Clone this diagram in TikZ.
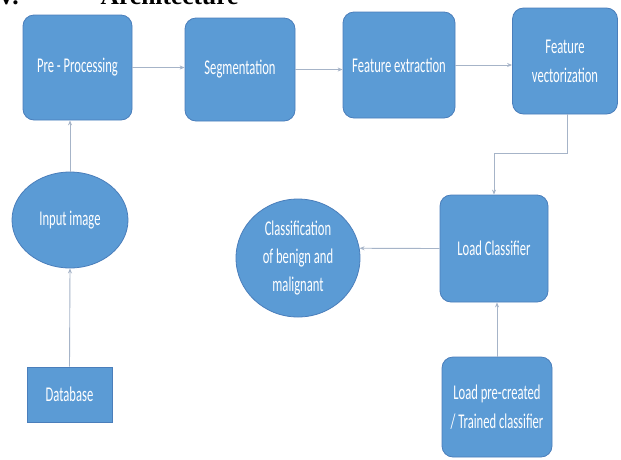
\documentclass[tikz,border=0pt]{standalone}
\usepackage{fontspec}
\setmainfont{Carlito}
\newfontfamily\boxfont[FakeStretch=0.6]{Carlito}
\newfontfamily\headfont{Liberation Serif}
\usetikzlibrary{arrows.meta,shapes.geometric}
\definecolor{boxblue}{HTML}{5B9BD5}
\definecolor{boxedge}{HTML}{4A7EBB}
\definecolor{linegray}{HTML}{A6B4C8}
\tikzset{
  rbox/.style={draw=boxedge, line width=0.8pt, fill=boxblue, rounded corners=11pt,
    text=white, font=\boxfont\fontsize{21}{24}\selectfont, align=center, inner sep=2pt},
  sbox/.style={draw=boxedge, line width=0.8pt, fill=boxblue,
    text=white, font=\boxfont\fontsize{21}{24}\selectfont, align=center, inner sep=2pt},
  ebox/.style={ellipse, draw=boxedge, line width=0.8pt, fill=boxblue,
    text=white, font=\boxfont\fontsize{21}{24}\selectfont, align=center, inner sep=0pt},
  conn/.style={draw=linegray, line width=0.9pt, -{Stealth[length=5pt,width=4pt]}}
}
\begin{document}
\begin{tikzpicture}[x=1pt,y=-1pt]
\useasboundingbox (0,0) rectangle (621,459);
\clip (0,0) rectangle (621,459);
\fill[white] (0,0) rectangle (621,459);
% clipped heading
\node[anchor=base west, inner sep=0pt, font=\headfont\bfseries\fontsize{25.5}{28}\selectfont] (head) at (-3,4) {V.\hspace{82pt}Architecture};
% nodes
\node[rbox, minimum width=109pt, minimum height=105pt] (pp) at (77.5,67.5) {Pre - Processing};
\node[rbox, minimum width=110pt, minimum height=103pt] (seg) at (240,69.5) {Segmentation};
\node[rbox, minimum width=112pt, minimum height=106pt] (fe) at (399,65) {Feature extraction};
\node[rbox, minimum width=105pt, minimum height=106pt] (fv) at (565,61) {Feature\\[5pt]vectorization};
\node[rbox, minimum width=108pt, minimum height=107pt] (lc) at (494,248.5) {Load Classifier};
\node[rbox, minimum width=110pt, minimum height=100pt] (lpc) at (497,407) {Load pre-created\\[5pt]/ Trained classifier};
\node[ebox, minimum width=124pt, minimum height=118pt] (cls) at (298,258) {Classification\\[4pt]of benign and\\[4pt]malignant};
\node[ebox, minimum width=116pt, minimum height=96pt] (inp) at (70,220) {Input image};
\node[sbox, minimum width=85pt, minimum height=55pt] (db) at (69.5,394.5) {Database};
% connectors
\draw[conn] (pp.east) -- (pp.east -| seg.west);
\draw[conn] (seg.east) -- (seg.east -| fe.west);
\draw[conn] (fe.east) -- (fe.east -| fv.west);
\draw[conn] ([xshift=2pt]fv.south) -- ++(0,39) -| (lc.north);
\draw[conn] (lpc.north) -- (lpc.north |- lc.south);
\draw[conn] (lc.west) -- (cls.9);
\draw[conn] (db.north) -- (inp.south);
\draw[conn] (inp.north) -- (inp.north |- pp.south);
\end{tikzpicture}
\end{document}
